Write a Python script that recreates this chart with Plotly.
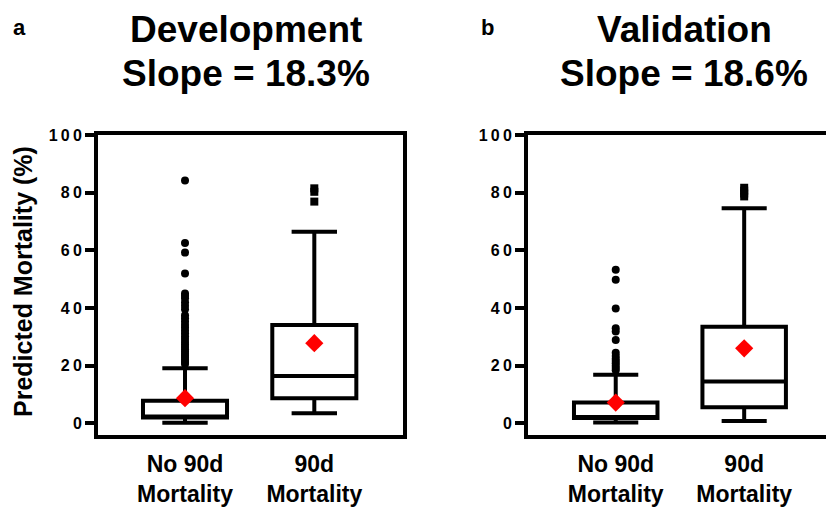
import plotly.graph_objects as go

W, H = 826, 507
FONT = "Liberation Sans, Arial, sans-serif"

categories = ["No 90d<br>Mortality", "90d<br>Mortality"]
ytick_vals = [0, 20, 40, 60, 80, 100]
y_title = "Predicted Mortality (%)"

# Development cohort (panel a)
dev_q1 = [2.0, 8.7]
dev_median = [2.3, 16.4]
dev_q3 = [7.8, 34.1]
dev_lower = [0.2, 3.5]
dev_upper = [19.1, 66.4]
dev_mean = [8.7, 27.8]
dev_out_no = [84.2, 62.5, 59.2, 52.0, 45.0, 44.2, 43.4, 42.0, 40.8, 39.6, 37.5,
              36.4, 35.3, 34.2, 33.2, 32.2, 31.2, 30.2, 29.2, 28.2, 27.3, 26.5,
              25.7, 24.9, 24.1, 23.4, 22.7, 22.0, 21.3, 20.6]
dev_out_yes = [81.5, 80.3, 76.9]

# Validation cohort (panel b)
val_q1 = [1.8, 5.6]
val_median = [2.1, 14.5]
val_q3 = [7.2, 33.5]
val_lower = [0.3, 0.8]
val_upper = [16.8, 74.6]
val_mean = [7.2, 26.0]
val_out_no = [53.3, 49.8, 39.8, 33.0, 31.8, 28.9, 24.5, 23.3, 22.4, 21.6,
              20.8, 20.0, 19.2, 18.4]
val_out_yes = [81.7, 80.7, 79.7, 78.7]

titles = [("Development", "Slope = 18.3%"), ("Validation", "Slope = 18.6%")]
panel_letters = ["a", "b"]

fig = go.Figure()

def add_panel(xa, ya, q1, med, q3, lo, up, mean, out_no, out_yes):
    fig.add_trace(go.Box(
        x=[0, 1], q1=q1, median=med, q3=q3, lowerfence=lo, upperfence=up,
        width=0.65, whiskerwidth=0.54, boxpoints=False,
        line=dict(color="black", width=4), fillcolor="white",
        xaxis=xa, yaxis=ya, showlegend=False, hoverinfo="skip"))
    fig.add_trace(go.Scatter(
        x=[0] * len(out_no), y=out_no, mode="markers",
        marker=dict(symbol="circle", size=8, color="black"),
        xaxis=xa, yaxis=ya, showlegend=False))
    fig.add_trace(go.Scatter(
        x=[1] * len(out_yes), y=out_yes, mode="markers",
        marker=dict(symbol="square", size=8, color="black"),
        xaxis=xa, yaxis=ya, showlegend=False))
    fig.add_trace(go.Scatter(
        x=[0, 1], y=mean, mode="markers",
        marker=dict(symbol="diamond", size=14, color="#ff0000"),
        xaxis=xa, yaxis=ya, showlegend=False))

add_panel("x", "y", dev_q1, dev_median, dev_q3, dev_lower, dev_upper,
          dev_mean, dev_out_no, dev_out_yes)
add_panel("x2", "y2", val_q1, val_median, val_q3, val_lower, val_upper,
          val_mean, val_out_no, val_out_yes)

ydom = [1 - 435 / H, 1 - 135 / H]
ticktext_y = ["<b>%s</b>" % "\u2009".join(str(v)) for v in ytick_vals]
xticktext = ["<b>%s</b>" % c.replace("<br>", "</b><br><b>") for c in categories]

common_x = dict(showline=True, linewidth=4, linecolor="black", mirror=True,
                ticks="", showgrid=False, zeroline=False,
                tickvals=[0, 1], ticktext=xticktext,
                tickfont=dict(family=FONT, size=23, color="black"),
                ticklabelstandoff=5, automargin=False, fixedrange=True)
common_y = dict(showline=True, linewidth=4, linecolor="black",
                ticks="outside", ticklen=9, tickwidth=4, tickcolor="black",
                showgrid=False, zeroline=False, range=[-4.06, 100],
                tickvals=ytick_vals, ticktext=ticktext_y,
                tickfont=dict(family=FONT, size=16, color="black"),
                ticklabelstandoff=0,
                automargin=False, fixedrange=True, domain=ydom)

fig.update_layout(
    width=W, height=H, autosize=False,
    margin=dict(l=0, r=0, t=0, b=0, pad=0),
    paper_bgcolor="white", plot_bgcolor="white",
    font=dict(family=FONT, color="black"),
    xaxis=dict(common_x, domain=[98 / W, 403 / W], range=[-0.673, 1.686], anchor="y"),
    yaxis=dict(common_y, mirror=True, anchor="x"),
    xaxis2=dict(common_x, domain=[528 / W, 1.0], range=[-0.683, 1.637], anchor="y2"),
    yaxis2=dict(common_y, mirror=False, anchor="x2"),
)

# y-axis title
fig.add_annotation(text="<b>%s</b>" % y_title, x=23 / W, y=1 - 282 / H,
                   xref="paper", yref="paper", showarrow=False, textangle=-90,
                   xanchor="center", yanchor="middle",
                   font=dict(family=FONT, size=25, color="black"))

title_x = [246 / W, 684 / W]
letter_pos = [(19 / W, 1 - 28 / H), (487 / W, 1 - 27 / H)]
for i, (t1, t2) in enumerate(titles):
    fig.add_annotation(text="<b>%s</b>" % t1, x=title_x[i], y=1 - 30 / H,
                       xref="paper", yref="paper", showarrow=False,
                       xanchor="center", yanchor="middle",
                       font=dict(family=FONT, size=37, color="black"))
    fig.add_annotation(text="<b>%s</b>" % t2, x=title_x[i], y=1 - 74 / H,
                       xref="paper", yref="paper", showarrow=False,
                       xanchor="center", yanchor="middle",
                       font=dict(family=FONT, size=37, color="black"))
    fig.add_annotation(text="<b>%s</b>" % panel_letters[i], x=letter_pos[i][0],
                       y=letter_pos[i][1], xref="paper", yref="paper",
                       showarrow=False, xanchor="center", yanchor="middle",
                       font=dict(family=FONT, size=22, color="black"))

fig.write_html("out.html", config={"displayModeBar": False},
               post_script="document.body.style.margin='0';"
                           "document.body.style.overflow='hidden';")
